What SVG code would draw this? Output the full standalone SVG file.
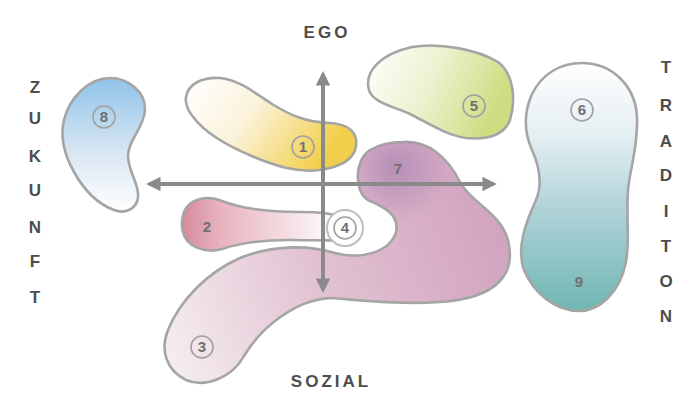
<svg xmlns="http://www.w3.org/2000/svg" width="698" height="393" viewBox="0 0 698 393">
<defs>
<style>
.blob{stroke:#a5a5a5;stroke-width:2.6;stroke-linejoin:round}
.ax{stroke:#8a8a8a;stroke-width:4;fill:none}
.lbl{font-family:"Liberation Sans",Arial,sans-serif;font-weight:bold;font-size:17px;fill:#4d4d4d;text-anchor:middle}
.num{font-family:"Liberation Sans",Arial,sans-serif;font-weight:bold;font-size:15px;fill:#707070;text-anchor:middle}
.ring{fill:none;stroke:#a0a0a0;stroke-width:1.6}
</style>
<linearGradient id="g1" x1="0" y1="0" x2="1" y2="0.4">
<stop offset="0" stop-color="#ffffff"/><stop offset="0.45" stop-color="#fbf3dc"/><stop offset="1" stop-color="#f2cf4a"/>
</linearGradient>
<linearGradient id="g5" x1="0" y1="0" x2="1" y2="0.3">
<stop offset="0" stop-color="#ffffff"/><stop offset="0.5" stop-color="#eef1cf"/><stop offset="1" stop-color="#cfdc82"/>
</linearGradient>
<linearGradient id="g8" x1="0" y1="0" x2="0" y2="1">
<stop offset="0" stop-color="#8fc3e8"/><stop offset="0.55" stop-color="#d8e6f3"/><stop offset="1" stop-color="#ffffff"/>
</linearGradient>
<linearGradient id="g6" x1="0" y1="0" x2="0" y2="1">
<stop offset="0" stop-color="#ffffff"/><stop offset="0.3" stop-color="#e3eef2"/><stop offset="0.55" stop-color="#b6d6dc"/><stop offset="1" stop-color="#6fb6b2"/>
</linearGradient>
<linearGradient id="g2" x1="0" y1="0" x2="1" y2="0">
<stop offset="0" stop-color="#d58a9c"/><stop offset="0.25" stop-color="#e8b4bf"/><stop offset="1" stop-color="#ffffff"/>
</linearGradient>
<linearGradient id="g37" gradientUnits="userSpaceOnUse" x1="165" y1="360" x2="510" y2="230">
<stop offset="0" stop-color="#f5eef1"/><stop offset="0.45" stop-color="#e2c3d2"/><stop offset="1" stop-color="#d1a2be"/>
</linearGradient>
<radialGradient id="g7" gradientUnits="userSpaceOnUse" cx="395" cy="168" r="55">
<stop offset="0" stop-color="#b088b4" stop-opacity="0.85"/><stop offset="1" stop-color="#b088b4" stop-opacity="0"/>
</radialGradient>
<marker id="ah" viewBox="0 0 10 10" refX="8" refY="5" markerWidth="3.6" markerHeight="3.6" orient="auto" markerUnits="strokeWidth">
<path d="M0,0 L10,5 L0,10 Z" fill="#8a8a8a"/>
</marker>
</defs>
<rect width="698" height="393" fill="#ffffff"/>

<g id="node-8">
<path class="blob" fill="url(#g8)" d="M110,78 C128,78 146,92 145,110 C144,128 128,140 128,156 C128,172 140,184 138,198 C136,210 124,214 114,210 C98,204 84,190 74,172 C64,154 60,136 64,120 C70,96 90,78 110,78 Z"/>
<circle class="ring" cx="104" cy="117" r="11" stroke="#9fb6c8"/>
<text class="num" x="104" y="122">8</text>
</g>

<g id="node-1">
<path class="blob" fill="url(#g1)" d="M186,97 C188,84 202,77 220,78 C240,80 256,94 272,104 C290,115 305,122 330,123 C348,124 358,132 356,146 C354,160 340,167 320,170 C298,173 276,166 254,157 C230,147 206,134 194,118 C188,111 185,104 186,97 Z"/>
<circle class="ring" cx="303" cy="147" r="11"/>
<text class="num" x="303" y="152">1</text>
</g>

<g id="node-5">
<path class="blob" fill="url(#g5)" d="M369,90 C364,72 380,54 412,47 C440,42 478,50 498,62 C514,74 516,100 510,120 C504,135 488,140 466,138 C446,135 430,124 410,114 C392,106 372,102 369,90 Z"/>
<circle class="ring" cx="474" cy="106" r="11"/>
<text class="num" x="474" y="111">5</text>
</g>

<g id="node-6">
<path class="blob" fill="url(#g6)" d="M582,63 C612,63 636,86 637,118 C638,148 630,168 628,190 C626,215 630,240 626,262 C620,292 600,311 579,311 C556,311 534,294 524,270 C516,248 526,222 536,200 C542,186 540,168 532,150 C524,132 524,112 532,94 C542,74 560,63 582,63 Z"/>
<circle class="ring" cx="582" cy="110" r="11"/>
<text class="num" x="582" y="115">6</text>
<text class="num" x="579" y="287" fill="#5f8585">9</text>
</g>

<g id="node-37">
<path class="blob" fill="url(#g37)" d="M403,142 C428,140 448,158 460,182 C470,202 500,212 508,240 C516,272 500,298 440,302 C400,305 360,300 330,298 C296,300 262,326 244,356 C232,378 205,388 186,380 C166,370 160,350 168,330 C180,300 208,272 240,258 C270,246 305,244 335,253 C362,260 390,252 396,232 C400,214 382,206 368,200 C354,192 354,160 370,150 C380,144 392,142 403,142 Z"/>
<path fill="url(#g7)" d="M403,142 C428,140 448,158 460,182 C470,202 500,212 508,240 C516,272 500,298 440,302 C400,305 360,300 330,298 C296,300 262,326 244,356 C232,378 205,388 186,380 C166,370 160,350 168,330 C180,300 208,272 240,258 C270,246 305,244 335,253 C362,260 390,252 396,232 C400,214 382,206 368,200 C354,192 354,160 370,150 C380,144 392,142 403,142 Z"/>
<text class="num" x="398" y="174" fill="#85627f">7</text>
<circle class="ring" cx="202" cy="347" r="11"/>
<text class="num" x="202" y="352">3</text>
</g>

<g id="node-2">
<path class="blob" fill="url(#g2)" d="M184,212 C190,198 208,195 222,201 C240,208 270,212 300,212 C318,212 332,213 340,217 L340,240 C330,241 310,240 290,240 C262,240 240,243 222,249 C204,254 186,246 183,232 C181,225 182,218 184,212 Z"/>
<text class="num" x="207" y="232" fill="#945565">2</text>
</g>

<g id="node-4">
<circle cx="345" cy="228" r="18" fill="#ffffff" stroke="#bdbdbd" stroke-width="2"/>
<circle class="ring" cx="345" cy="228" r="11"/>
<text class="num" x="345" y="233">4</text>
</g>

<g id="connectors">
<path class="ax" d="M494,184 L149,184" marker-end="url(#ah)"/>
<path class="ax" d="M149,184 L494,184" marker-end="url(#ah)"/>
<path class="ax" d="M323,290 L323,74" marker-end="url(#ah)"/>
<path class="ax" d="M323,74 L323,290" marker-end="url(#ah)"/>
</g>

<g id="labels">
<text class="lbl" x="327" y="38" style="letter-spacing:3px">EGO</text>
<text class="lbl" x="331" y="387" style="letter-spacing:3px">SOZIAL</text>
<text class="lbl" x="35" y="93">Z</text>
<text class="lbl" x="35" y="124">U</text>
<text class="lbl" x="35" y="162">K</text>
<text class="lbl" x="35" y="196">U</text>
<text class="lbl" x="35" y="233">N</text>
<text class="lbl" x="35" y="267">F</text>
<text class="lbl" x="35" y="303">T</text>
<text class="lbl" x="666" y="73">T</text>
<text class="lbl" x="666" y="111">R</text>
<text class="lbl" x="666" y="147">A</text>
<text class="lbl" x="666" y="181">D</text>
<text class="lbl" x="666" y="217">I</text>
<text class="lbl" x="666" y="252">T</text>
<text class="lbl" x="666" y="287">O</text>
<text class="lbl" x="666" y="322">N</text>
</g>
</svg>
